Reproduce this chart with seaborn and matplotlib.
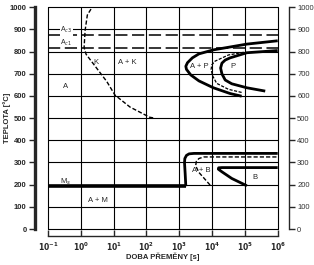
import numpy as np
import pandas as pd
import matplotlib
matplotlib.use('Agg')
import matplotlib.pyplot as plt
from matplotlib.ticker import NullLocator, FixedLocator
import seaborn as sns

sns.set_style('white')
plt.rcParams['font.family'] = ['Liberation Sans', 'DejaVu Sans']

# ---- data (time in s, temperature in deg C) ----
k_time = [2.04, 1.58, 1.35, 1.26, 1.45, 2.5, 6.2, 11, 31.6, 126, 180]
k_temp = [992, 965, 895, 818, 788, 742, 665, 604, 550, 504, 500]

ac3_time = [0.1, 1e6]
ac3_temp = [877, 877]
ac1_time = [0.1, 1e6]
ac1_temp = [815, 815]

ps_log = [4.9, 4.55, 4.04, 3.6, 3.35, 3.22, 3.2, 3.25, 3.4, 3.6, 4.04, 5.06, 6.0]
ps_temp = [599, 611, 637, 668, 695, 720, 734, 750, 772, 790, 808, 834, 849]

pf_log = [5.62, 5.06, 4.6, 4.4, 4.3, 4.26, 4.3, 4.4, 4.55, 5.06, 6.0]
pf_temp = [622, 637, 655, 672, 700, 726, 748, 762, 772, 795, 805]

pd_log = [4.9, 4.5, 4.14, 4.02, 3.97, 3.99, 4.09, 4.5, 5.0]
pd_temp = [616, 630, 657, 690, 719, 740, 757, 785, 798]

ms_time = [0.1, 10 ** 3.2]
ms_temp = [193, 193]

bs_log = [3.2, 3.18, 3.16, 3.17, 3.22, 3.3, 3.45, 6.0]
bs_temp = [193, 250, 300, 318, 332, 339, 341, 341]

bd_log = [3.94, 3.75, 3.6, 3.5, 3.52, 3.6, 3.75, 6.0]
bd_temp = [198, 230, 255, 285, 305, 318, 325, 325]

bf_log = [5.06, 4.6, 4.3, 4.19, 4.2, 4.3, 6.0]
bf_temp = [195, 228, 258, 270, 276, 277, 277]

y_ticks = list(range(0, 1001, 100))
x_ticks = [1e-1, 1e0, 1e1, 1e2, 1e3, 1e4, 1e5, 1e6]
x_ticklabels = ['$\\mathbf{10^{-1}}$', '$\\mathbf{10^{0}}$', '$\\mathbf{10^{1}}$',
                '$\\mathbf{10^{2}}$', '$\\mathbf{10^{3}}$', '$\\mathbf{10^{4}}$',
                '$\\mathbf{10^{5}}$', '$\\mathbf{10^{6}}$']

fig = plt.figure(figsize=(3.14, 2.65), dpi=100)
W, H = 314, 265
ax = fig.add_axes([48 / W, 1 - 229 / H, (277.7 - 48) / W, (229 - 7.3) / H])
ax.set_xscale('log')
ax.set_xlim(0.1, 1e6)
ax.set_ylim(0, 1000)


def curve(t, T, lw, ls='-', color='black'):
    df = pd.DataFrame({'t': t, 'T': T})
    sns.lineplot(data=df, x='t', y='T', sort=False, estimator=None, ax=ax,
                 color=color, lw=lw, linestyle=ls, legend=False,
                 solid_capstyle='butt')


curve(k_time, k_temp, 1.0, (0, (3, 1.5)))
curve(ac3_time, ac3_temp, 1.1, (0, (8, 3)))
curve(ac1_time, ac1_temp, 1.1, (0, (8, 3)))
curve(10 ** np.array(ps_log), ps_temp, 2.0)
curve(10 ** np.array(pf_log), pf_temp, 2.0)
curve(10 ** np.array(pd_log), pd_temp, 0.9, (0, (2.5, 1.2)))
curve(ms_time, ms_temp, 2.6)
curve(10 ** np.array(bs_log), bs_temp, 2.0)
curve(10 ** np.array(bd_log), bd_temp, 1.0, (0, (3, 1.5)))
curve(10 ** np.array(bf_log), bf_temp, 2.0)

ax.set_xlabel('')
ax.set_ylabel('')

for s in ['top', 'right']:
    ax.spines[s].set_visible(False)
ax.spines['left'].set_position(('outward', 9.4))
ax.spines['left'].set_linewidth(2.4)
ax.spines['bottom'].set_position(('outward', 5))
ax.spines['bottom'].set_linewidth(1.0)
ax.tick_params(axis='y', which='major', direction='out', length=4, width=1,
               pad=2, left=True, labelsize=5.5)
ax.tick_params(axis='x', which='major', direction='in', length=4, width=1,
               pad=3, bottom=True, labelsize=5.5)

# grid and ticks
ax.xaxis.set_major_locator(FixedLocator(x_ticks))
ax.xaxis.set_minor_locator(NullLocator())
ax.set_yticks(y_ticks)
ax.set_xticklabels(x_ticklabels)
ax.set_yticklabels([str(v) for v in y_ticks])
for lab in ax.get_yticklabels() + ax.get_xticklabels():
    lab.set_fontsize(5.5)
    lab.set_fontweight('bold')
ax.grid(True, color='black', lw=0.8)
for gl in ax.get_xgridlines() + ax.get_ygridlines():
    gl.set_clip_on(False)

ax2 = ax.twinx()
ax2.set_ylim(0, 1000)
for s in ['top', 'left', 'bottom']:
    ax2.spines[s].set_visible(False)
ax2.spines['right'].set_position(('outward', 8))
ax2.spines['right'].set_linewidth(1.0)
ax2.tick_params(axis='y', direction='out', length=4, width=1, pad=2,
                right=True, labelsize=5.5, labelcolor='#333333')
ax2.set_yticks(y_ticks)
ax2.set_yticklabels([str(v) for v in y_ticks])
for lab in ax2.get_yticklabels():
    lab.set_fontsize(5.5)

# labels
fig.text(7 / W, 1 - 118 / H, 'TEPLOTA [°C]', rotation=90, ha='center',
         va='center', fontsize=5.5, fontweight='bold')
fig.text(163 / W, 1 - 257 / H, 'DOBA PŘEMĚNY [s]', ha='center', va='center',
         fontsize=5.5, fontweight='bold')

tkw = dict(fontsize=5.5, ha='center', va='center')
ax.text(10 ** -0.48, 645, 'A', **tkw)
ax.text(10 ** 0.46, 749, 'K', **tkw)
ax.text(10 ** 1.43, 749, 'A + K', **tkw)
ax.text(10 ** 3.6, 731, 'A + P', **tkw)
ax.text(10 ** 4.65, 734, 'P', **tkw)
ax.text(10 ** 3.68, 266, 'A + B', **tkw)
ax.text(10 ** 5.31, 232, 'B', **tkw)
ax.text(10 ** 0.51, 130, 'A + M', **tkw)
ax.text(10 ** -0.48, 215, 'M$_s$', **tkw)
ax.text(10 ** -0.45, 897, 'A$_{c3}$', fontsize=5, ha='center', va='center',
        bbox=dict(facecolor='white', edgecolor='none', pad=0.3))
ax.text(10 ** -0.45, 838, 'A$_{c1}$', fontsize=5, ha='center', va='center')

fig.savefig('out.png', dpi=100)
